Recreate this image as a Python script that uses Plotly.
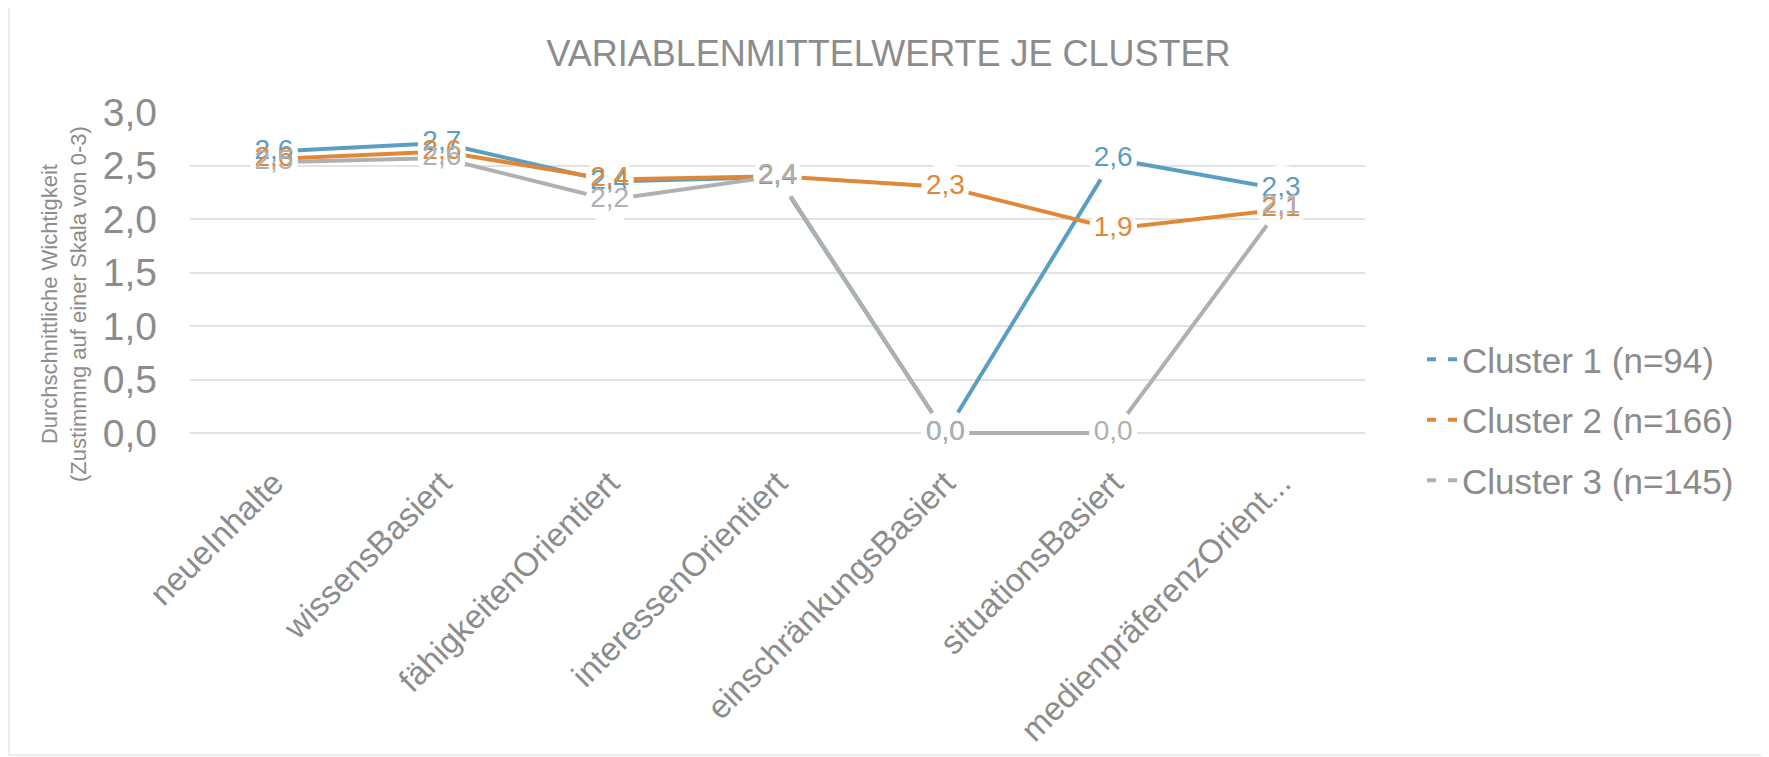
import plotly.graph_objects as go

categories = ["neueInhalte", "wissensBasiert", "fähigkeitenOrientiert", "interessenOrientiert",
              "einschränkungsBasiert", "situationsBasiert", "medienpräferenzOrientiert"]
tick_labels = ["neueInhalte", "wissensBasiert", "fähigkeitenOrientiert", "interessenOrientiert",
               "einschränkungsBasiert", "situationsBasiert", "medienpräferenzOrient..."]
series_names = ["Cluster 1 (n=94)", "Cluster 2 (n=166)", "Cluster 3 (n=145)"]
cluster1 = [2.63, 2.71, 2.35, 2.39, 0.0, 2.56, 2.28]
cluster2 = [2.56, 2.63, 2.37, 2.40, 2.30, 1.91, 2.09]
cluster3 = [2.53, 2.57, 2.18, 2.40, 0.0, 0.0, 2.12]
y_ticks = [0.0, 0.5, 1.0, 1.5, 2.0, 2.5, 3.0]

colors = ["#5b9ec1", "#e0883a", "#b0b0b0"]
text_gray = "#8c8c8c"
FONT = "Liberation Sans, Arial, sans-serif"

# page body has an 8px margin; figure coords = screen coords - 8
OFF = 8
W, H = 1769 - OFF, 757 - OFF
UNIT = 107.0                       # px per y unit
PAD = 5                            # px of room below zero so the 0-line is not clipped
L, R, T = 190 - OFF, 1365 - OFF, 112 - OFF
B = 433 + PAD - OFF
pw, ph = R - L, B - T
y_lo = -PAD / UNIT


def px(sx):
    return (sx - OFF - L) / pw


def py(sy):
    return (B - (sy - OFF)) / ph


fig = go.Figure()
all_series = [cluster1, cluster2, cluster3]
# lines with white circular "halo" markers (mask lines behind data labels)
for name, vals, col in zip(series_names, all_series, colors):
    fig.add_trace(go.Scatter(x=categories, y=vals, mode="lines+markers", name=name,
                             line=dict(color=col, width=4),
                             marker=dict(size=48, color="white", line=dict(width=0)),
                             showlegend=False, cliponaxis=False, hoverinfo="skip"))
# data labels on top of all lines
for name, vals, col in zip(series_names, all_series, colors):
    fig.add_trace(go.Scatter(x=categories, y=vals, mode="text",
                             text=[f"{v:.1f}".replace(".", ",") for v in vals],
                             textposition="middle center",
                             textfont=dict(family=FONT, size=28, color=col),
                             showlegend=False, cliponaxis=False, hoverinfo="skip"))
# legend entries
for i, (name, col) in enumerate(zip(series_names, colors)):
    fig.add_trace(go.Scatter(x=[None], y=[None], mode="lines", name=name,
                             line=dict(color=col, width=4, dash="9px,12px"),
                             legendgroup=f"g{i}", showlegend=True))

fig.update_layout(
    width=W, height=H,
    margin=dict(l=L, r=W - R, t=T, b=H - B, autoexpand=False),
    paper_bgcolor="white", plot_bgcolor="white",
    separators=",.",
    font=dict(family=FONT, color=text_gray),
    title=dict(text="VARIABLENMITTELWERTE JE CLUSTER",
               font=dict(family=FONT, size=36, color=text_gray),
               x=0.5, xanchor="center", y=1 - (53 - OFF) / H, yanchor="middle"),
    xaxis=dict(type="category", categoryarray=categories, range=[-0.5, 6.5],
               tickmode="array", tickvals=categories, ticktext=tick_labels,
               tickangle=-45, tickfont=dict(size=33, color=text_gray),
               ticklabelstandoff=18,
               showgrid=False, showline=False, zeroline=False, ticks=""),
    yaxis=dict(range=[y_lo, 3], tickmode="array", tickvals=y_ticks, tickformat=".1f",
               tickfont=dict(size=39, color=text_gray), ticklabelstandoff=32,
               showgrid=True, gridcolor="#e2e2e2", gridwidth=2,
               zeroline=False, showline=False, ticks=""),
    legend=dict(x=px(1422), xanchor="left", y=py(420), yanchor="middle",
                font=dict(size=35, color=text_gray), tracegroupgap=12,
                bgcolor="rgba(0,0,0,0)", itemwidth=30),
    annotations=[dict(text="Durchschnittliche Wichtigkeit<br>(Zustimmng auf einer Skala von 0-3)",
                      xref="paper", yref="paper", x=px(64), y=py(304),
                      xanchor="center", yanchor="middle", textangle=-90, showarrow=False,
                      font=dict(family=FONT, size=22, color=text_gray))],
    shapes=[dict(type="rect", xref="paper", yref="paper",
                 x0=px(9), x1=px(1765), y0=py(755), y1=py(5),
                 line=dict(color="#d9d9d9", width=1), layer="below")],
    showlegend=True,
)

fig.write_html("out.html")
